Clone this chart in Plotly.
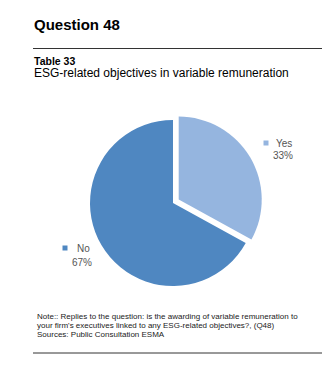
import plotly.graph_objects as go

W, H = 333, 372

# Chart data
categories = ["Yes", "No"]
shares = [33, 67]
colors = ["#95b5df", "#4f87c1"]

title_text = "Question 48"
table_text = "Table 33"
subtitle_text = "ESG-related objectives in variable remuneration"
note_lines = [
    "Note:: Replies to the question: is the awarding of variable remuneration to",
    "your firm's executives linked to any ESG-related objectives?, (Q48)",
    "Sources: Public Consultation ESMA",
]


def px(x):
    return x / W


def py(y):
    return 1 - y / H


FONT = "Liberation Sans, Arial, sans-serif"

fig = go.Figure()

pull = 0.08
cx, cy, r = 173, 203, 83
half = r * (1 + pull)
fig.add_trace(go.Pie(
    labels=categories,
    values=shares,
    sort=False,
    direction="clockwise",
    rotation=0,
    pull=[pull, 0],
    marker=dict(colors=colors, line=dict(width=0)),
    textinfo="none",
    hoverinfo="label+percent",
    showlegend=False,
    domain=dict(x=[px(cx - half), px(cx + half)], y=[py(cy + half), py(cy - half)]),
))

annotations = []
shapes = []

# Headings
annotations.append(dict(text=f"<b>{title_text}</b>", x=px(32), y=py(25), xanchor="left", yanchor="middle",
                        showarrow=False, font=dict(family=FONT, size=15, color="#000")))
annotations.append(dict(text=f"<b>{table_text}</b>", x=px(32), y=py(61), xanchor="left", yanchor="middle",
                        showarrow=False, font=dict(family=FONT, size=10.5, color="#000")))
annotations.append(dict(text=subtitle_text, x=px(32), y=py(73), xanchor="left", yanchor="middle",
                        showarrow=False, font=dict(family=FONT, size=12, color="#000")))

# Rules
shapes.append(dict(type="line", xref="paper", yref="paper", x0=px(33), x1=px(322), y0=py(48.5), y1=py(48.5),
                   line=dict(color="#333", width=1)))
shapes.append(dict(type="line", xref="paper", yref="paper", x0=px(33), x1=px(322), y0=py(353), y1=py(353),
                   line=dict(color="#333", width=1)))

# Slice labels with colour keys
label_pos = {"Yes": (283, 143, 155, 266), "No": (82, 248, 262, 65)}
for cat, val, col in zip(categories, shares, colors):
    xc, y1, y2, sqx = label_pos[cat]
    annotations.append(dict(text=cat, x=px(xc + 1), y=py(y1), xanchor="center", yanchor="middle",
                            showarrow=False, font=dict(family=FONT, size=10, color="#555")))
    annotations.append(dict(text=f"{val}%", x=px(xc), y=py(y2), xanchor="center", yanchor="middle",
                            showarrow=False, font=dict(family=FONT, size=10, color="#555")))
    shapes.append(dict(type="rect", xref="paper", yref="paper", x0=px(sqx - 2.5), x1=px(sqx + 2.5),
                       y0=py(y1 + 2.5), y1=py(y1 - 2.5), fillcolor=col, line=dict(width=0)))

# Footnote
for i, line in enumerate(note_lines):
    annotations.append(dict(text=line, x=px(35), y=py(316 + 9 * i), xanchor="left", yanchor="middle",
                            showarrow=False, font=dict(family=FONT, size=8, color="#222")))

fig.update_layout(
    width=W, height=H,
    margin=dict(l=0, r=0, t=0, b=0),
    paper_bgcolor="white", plot_bgcolor="white",
    annotations=annotations,
    shapes=shapes,
)

fig.write_html("out.html")
